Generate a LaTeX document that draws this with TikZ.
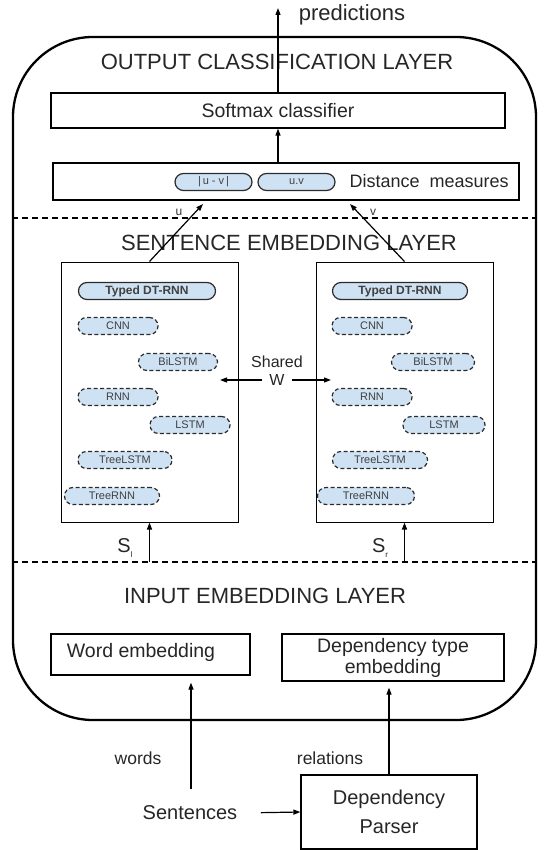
\documentclass[tikz,border=0pt]{standalone}
\usepackage{fontspec}
\setmainfont{Liberation Sans}
\usetikzlibrary{arrows.meta}
\definecolor{pillfill}{HTML}{CFE2F3}
\definecolor{pilldraw}{HTML}{2B2B2B}
\newcommand{\fs}[1]{\fontsize{#1}{#1}\selectfont}
\begin{document}
\begin{tikzpicture}[x=1pt,y=-1pt,
  box/.style={draw=black, line width=1.2pt, rectangle, inner sep=0pt},
  arr/.style={-{Triangle[length=7pt,width=5pt]}, line width=1.2pt},
  sep/.style={line width=1.2pt, dash pattern=on 6pt off 4pt},
  pill/.style={draw=pilldraw, fill=pillfill, line width=1.2pt, rounded corners=8.5pt,
     minimum height=17pt, inner sep=0pt, font=\fs{11}, text=black!75},
  dpill/.style={pill, dash pattern=on 4pt off 2.5pt},
  ttl/.style={font=\fs{22}, text=black!85},
  txt/.style={font=\fs{19.5}, text=black!85}]
\useasboundingbox (0,0) rectangle (546,850);

% outer container
\node[draw=black, line width=2.3pt, rounded corners=80pt, minimum width=523pt,
      minimum height=683pt, inner sep=0pt] (outer) at (274.5,378.5) {};

% output layer
\node[ttl] (pred) at (352,15) {predictions};
\node[ttl] (title1) at (277,62) {OUTPUT CLASSIFICATION LAYER};
\node[box, minimum width=454pt, minimum height=35pt, font=\fs{19.5}, text=black!85] (softmax) at (278,110.5) {Softmax classifier};
\node[box, minimum width=466pt, minimum height=37pt] (dist) at (286,181.5) {};
\node[pill, minimum width=77pt] (euv) at (213.5,182) {|\,u - v\,|};
\node[pill, minimum width=77pt] (edot) at (296.5,182) {u.v};
\node[anchor=west, font=\fs{18}, text=black!85] (distt) at (346,181) {Distance\ \ measures};
\coordinate (predtip) at (278,8);
\draw[arr] (softmax.north -| predtip) -- (predtip);
\draw[arr] (dist.north -| predtip) -- (softmax.south -| predtip);

\draw[sep] (outer.west |- 0,218) -- (outer.east |- 0,218);

% sentence embedding layer
\node[ttl] (title2) at (289,243) {SENTENCE EMBEDDING LAYER};
\node[box, line width=1pt, minimum width=177pt, minimum height=260pt] (lbox) at (149.5,392) {};
\node[box, line width=1pt, minimum width=177pt, minimum height=260pt] (rbox) at (404.5,392) {};

\node[font=\fs{12}, text=black!80] (ulab) at (179,212) {u};
\node[font=\fs{12}, text=black!80] (vlab) at (373,212) {v};
\coordinate (utip) at (203,204);
\coordinate (vtip) at (350,204);
\draw[arr] (lbox.north) -- (utip);
\draw[arr] (rbox.north) -- (vtip);

\node[pill, minimum width=137pt, font=\fs{12}\bfseries] (ltyped) at (147,291) {Typed DT-RNN};
\node[dpill, minimum width=80pt] (lcnn) at (118,326) {CNN};
\node[dpill, minimum width=79pt] (lbilstm) at (178,362) {BiLSTM};
\node[dpill, minimum width=80pt] (lrnn) at (118,397) {RNN};
\node[dpill, minimum width=80pt] (llstm) at (190,425) {LSTM};
\node[dpill, minimum width=94pt] (ltreelstm) at (125,460) {TreeLSTM};
\node[dpill, minimum width=95pt] (ltreernn) at (112,496) {TreeRNN};

\node[pill, minimum width=135pt, font=\fs{12}\bfseries] (rtyped) at (400,291) {Typed DT-RNN};
\node[dpill, minimum width=80pt] (rcnn) at (372,326) {CNN};
\node[dpill, minimum width=83pt] (rbilstm) at (433,362) {BiLSTM};
\node[dpill, minimum width=80pt] (rrnn) at (372,397) {RNN};
\node[dpill, minimum width=82pt] (rlstm) at (444,425) {LSTM};
\node[dpill, minimum width=95pt] (rtreelstm) at (380,460) {TreeLSTM};
\node[dpill, minimum width=97pt] (rtreernn) at (366,496) {TreeRNN};

\node[font=\fs{16}, text=black!85] (shared) at (277,362) {Shared};
\node[font=\fs{16}, text=black!85, inner sep=4pt] (wnode) at (277,380) {W};
\coordinate (lw) at (220,380);
\coordinate (rw) at (331,380);
\draw[arr] ([xshift=-3pt]wnode.west) -- (lw);
\draw[arr] ([xshift=3pt]wnode.east) -- (rw);

\node[font=\fs{20}, text=black!85] (sl) at (125,548) {S\raisebox{-5pt}{\fs{8}l}};
\node[font=\fs{20}, text=black!85] (sr) at (380,548) {S\raisebox{-5pt}{\fs{8}r}};
\coordinate (slbase) at (149.5,562);
\coordinate (srbase) at (404.5,562);
\draw[arr] (slbase) -- (lbox.south);
\draw[arr] (srbase) -- (rbox.south);

\draw[sep] (outer.west |- 0,562) -- (outer.east |- 0,562);

% input embedding layer
\node[ttl] (title3) at (265,596) {INPUT EMBEDDING LAYER};
\node[box, minimum width=199pt, minimum height=41pt] (wordemb) at (150.5,654.5) {};
\node[txt] (wordembt) at (141,652) {Word embedding};
\node[box, minimum width=222pt, minimum height=47pt, align=center, txt,
      font=\fontsize{19.5}{21}\selectfont] (depemb) at (393,657.5) {Dependency type\\embedding};

% bottom
\node[font=\fs{17.5}, text=black!85] (words) at (138,758) {words};
\node[font=\fs{17.5}, text=black!85] (relations) at (330,758) {relations};
\node[font=\fs{20}, text=black!85] (sentences) at (190,813) {Sentences};
\node[box, minimum width=176pt, minimum height=74pt, align=center,
      font=\fontsize{20}{29}\selectfont, text=black!85] (parser) at (389,812) {Dependency\\Parser};

\coordinate (wstart) at (191,789);
\draw[arr, shorten >=7pt] (wstart) -- (wstart |- wordemb.south);
\draw[arr, shorten <=20pt] (sentences.east) -- (parser.west);
\draw[arr, shorten >=6pt] (parser.north) -- (parser.north |- depemb.south);
\end{tikzpicture}
\end{document}
